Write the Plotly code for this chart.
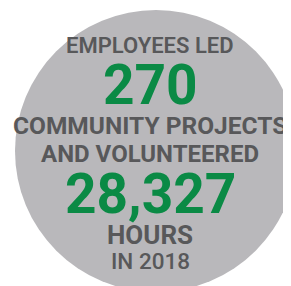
import plotly.graph_objects as go

W, H = 291, 286
lines = ["EMPLOYEES LED", "270", "COMMUNITY PROJECTS", "AND VOLUNTEERED", "28,327", "HOURS", "IN 2018"]
line_y = [37.5, 77, 117, 146, 186, 227, 253]
line_size = [22, 55, 24.5, 24, 55, 26, 22.5]
line_color = ["#58585a", "#0a8a45", "#58585a", "#58585a", "#0a8a45", "#58585a", "#58585a"]
line_weight = [600, 700, 700, 700, 700, 700, 500]

circle_cx, circle_cy, circle_r = 148, 143, 141
text_x = 142

fig = go.Figure()
fig.add_shape(type="circle", xref="x", yref="y",
              x0=circle_cx - circle_r, x1=circle_cx + circle_r,
              y0=circle_cy - circle_r, y1=circle_cy + circle_r,
              fillcolor="#b9b8bb", line=dict(width=0), layer="below")
for t, y, s, c, wgt in zip(lines, line_y, line_size, line_color, line_weight):
    fig.add_annotation(x=text_x, y=y, xref="x", yref="y", text=t,
                       showarrow=False, xanchor="center", yanchor="middle",
                       font=dict(family="Roboto, Arial, sans-serif", size=s, color=c, weight=wgt))
fig.update_xaxes(range=[0, W], visible=False, fixedrange=True)
fig.update_yaxes(range=[H, 0], visible=False, fixedrange=True)
fig.update_layout(width=W, height=H, margin=dict(l=0, r=0, t=0, b=0),
                  paper_bgcolor="white", plot_bgcolor="white", showlegend=False)
fig.write_html("out.html", config={"displayModeBar": False})
